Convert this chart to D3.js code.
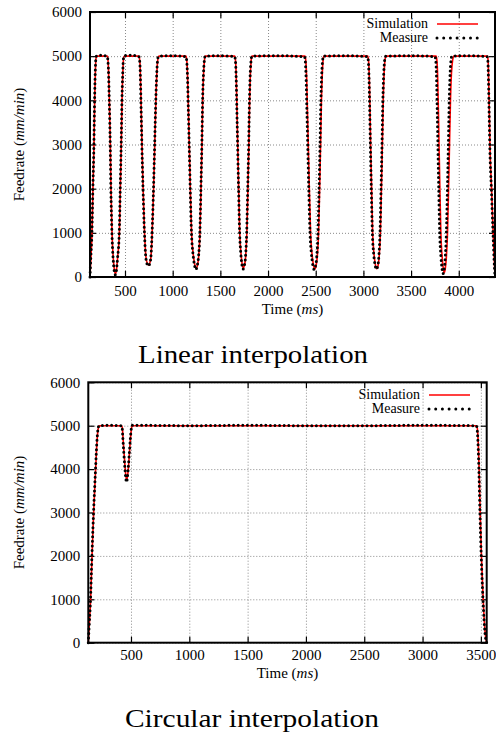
<!DOCTYPE html>
<html><head><meta charset="utf-8">
<script src="https://cdn.jsdelivr.net/npm/d3@7"></script>
<style>
body{margin:0;background:#fff;}
svg text{font-family:"Liberation Serif","Times New Roman",serif;fill:#000;}
</style>
</head><body>
<svg id="chart" width="496" height="736"></svg>
<script>
// ---------- DATA ----------
const seriesNames = ["Simulation", "Measure"];
const panelTitles = ["Linear interpolation", "Circular interpolation"];
const yTicks = [0, 1000, 2000, 3000, 4000, 5000, 6000];
const linearXTicks = [500, 1000, 1500, 2000, 2500, 3000, 3500, 4000];
const circularXTicks = [500, 1000, 1500, 2000, 2500, 3000, 3500];

const linearSimTime = [133,142,154,164,175,182,190,196,205,315,
 320,327,336,346,353,364,378,390,399,410,423,441,451,461,469,477,485,495,645,
 652,660,668,678,690,705,720,735,748,760,772,785,800,812,824,836,846,856,1139,
 1148,1157,1165,1174,1185,1198,1214,1230,1244,1258,1272,1286,1297,1307,1315,1324,1333,1342,1650,
 1659,1667,1674,1682,1692,1703,1716,1728,1740,1752,1765,1778,1789,1799,1807,1815,1823,1831,2387,
 2396,2405,2413,2422,2433,2446,2460,2474,2490,2503,2516,2530,2541,2551,2560,2569,2577,2586,3045,
 3054,3062,3069,3076,3086,3097,3110,3124,3140,3153,3165,3178,3189,3199,3208,3217,3226,3236,3762,
 3771,3779,3786,3793,3802,3812,3824,3836,3847,3858,3870,3882,3893,3903,3913,3923,3935,3949,4300,
 4308,4313,4318,4328,4344,4361,4372,4380];
const linearSimValue = [0,400,1000,2000,3000,4000,4700,4950,5000,5000,
 4950,4700,4000,3000,2000,1000,400,150,70,150,450,1000,2000,3000,4000,4600,4950,5000,5000,
 4950,4700,4000,3000,2000,1000,450,300,270,320,450,1000,2000,3000,4000,4700,4950,5000,5000,
 4900,4500,3800,3000,2000,1000,550,300,190,250,450,1000,2000,3000,4000,4600,4900,5000,5000,
 4900,4500,3800,3000,2000,1000,550,300,200,260,450,1000,2000,3000,4000,4600,4900,5000,5000,
 4900,4500,3800,3000,2000,1000,550,300,185,250,450,1000,2000,3000,4000,4600,4900,5000,5000,
 4900,4500,3800,3000,2000,1000,550,300,190,250,450,1000,2000,3000,4000,4600,4900,5000,5000,
 4900,4500,3800,3000,2000,1000,500,220,100,180,450,1000,2000,3000,4000,4600,4900,5000,5000,
 4900,4500,4000,2900,2000,1000,400,0];

const linearMeasTime = [133,141,153,163,174,181,189,195,204,260,314,
 320,327,335,345,352,363,376,388,398,409,422,440,450,460,468,476,484,494,560,645,
 651,659,667,677,689,704,719,734,747,759,771,784,799,811,823,835,845,855,1000,1139,
 1147,1156,1164,1173,1184,1197,1212,1228,1242,1256,1270,1285,1296,1306,1314,1323,1332,1341,1500,1650,
 1658,1666,1673,1681,1691,1702,1714,1726,1738,1750,1763,1776,1787,1797,1805,1813,1822,1830,2100,2382,
 2390,2399,2407,2416,2427,2440,2454,2468,2484,2497,2510,2524,2535,2545,2554,2563,2572,2581,2800,3042,
 3051,3059,3066,3073,3083,3094,3107,3121,3136,3149,3161,3174,3185,3195,3204,3213,3222,3232,3500,3750,
 3759,3767,3774,3781,3790,3800,3812,3824,3835,3846,3858,3870,3881,3891,3900,3909,3918,3928,4100,4297,
 4305,4311,4316,4326,4342,4359,4370,4380];
const linearMeasValue = [0,420,1000,2000,3000,4000,4700,4960,5010,5020,4990,
 4920,4650,4000,3000,2000,1000,400,120,50,130,430,1000,2000,3000,4000,4600,4950,5010,5020,4990,
 4940,4700,4000,3000,2000,1000,430,280,250,300,440,1000,2000,3000,4000,4700,4960,5000,5010,4990,
 4900,4500,3800,3000,2000,1000,540,280,170,240,440,1000,2000,3000,4000,4600,4900,5000,5010,4990,
 4900,4500,3800,3000,2000,1000,540,280,180,250,440,1000,2000,3000,4000,4600,4900,5000,5010,4990,
 4900,4500,3800,3000,2000,1000,540,290,170,240,440,1000,2000,3000,4000,4600,4900,5000,5010,4990,
 4900,4500,3800,3000,2000,1000,540,290,180,240,440,1000,2000,3000,4000,4600,4900,5000,5010,4990,
 4900,4500,3800,3000,2000,1000,490,200,80,160,440,1000,2000,3000,4000,4600,4900,5000,5010,4990,
 4900,4500,4000,2900,2000,1000,400,0];

const circularSimTime = [134,140,154,166,180,197,208,217,228,420,
 426,432,440,448,456,463,470,477,485,497,505,512,3463,
 3469,3474,3485,3494,3505,3520,3536,3550];
const circularSimValue = [0,300,1000,2000,3000,4000,4600,4900,5000,5000,
 4950,4700,4400,4100,3850,3750,3830,4000,4300,4750,4950,5000,5000,
 4950,4800,4000,3000,2000,1000,250,0];

const circularMeasTime = [134,140,153,165,179,196,207,216,226,300,420,
 425,431,439,447,455,462,469,476,484,496,504,511,1000,1500,2000,2500,3000,3461,
 3467,3472,3483,3492,3503,3518,3535,3550];
const circularMeasValue = [0,320,1000,2000,3000,4000,4600,4900,5000,5010,5000,
 4930,4680,4350,4050,3800,3700,3800,4000,4300,4750,4960,5010,5000,5010,5000,5000,5010,5000,
 4940,4780,4000,3000,2000,1000,230,0];

// ---------- DRAWING ----------
const FONT = '"Liberation Serif", "Times New Roman", serif';
const svg = d3.select("#chart");

function zip(t, v) { return t.map((d, i) => ({t: d, v: v[i]})); }

function drawPanel(c) {
  const g = svg.append("g");
  const x = d3.scaleLinear().domain(d3.extent(c.simTime)).range([c.left, c.right]);
  const y = d3.scaleLinear().domain([0, 6000]).range([c.bottom, c.top]);
  const W = c.right - c.left, H = c.bottom - c.top;

  // grid
  const gx = g.append("g").attr("transform", `translate(0,${c.bottom})`)
    .call(d3.axisBottom(x).tickValues(c.xTicks).tickSize(-H).tickFormat(""));
  const gy = g.append("g").attr("transform", `translate(${c.left},0)`)
    .call(d3.axisLeft(y).tickValues(yTicks).tickSize(-W).tickFormat(""));
  [gx, gy].forEach(a => {
    a.select(".domain").remove();
    a.selectAll("line").attr("stroke", "#8a8a8a").attr("stroke-width", 1).attr("stroke-dasharray", "1,2");
  });

  // inward tick marks on all four sides
  const tl = 6;
  const marks = [
    g.append("g").attr("transform", `translate(0,${c.bottom})`).call(d3.axisBottom(x).tickValues(c.xTicks).tickSize(-tl).tickFormat("")),
    g.append("g").attr("transform", `translate(0,${c.top})`).call(d3.axisTop(x).tickValues(c.xTicks).tickSize(-tl).tickFormat("")),
    g.append("g").attr("transform", `translate(${c.left},0)`).call(d3.axisLeft(y).tickValues(yTicks).tickSize(-tl).tickFormat("")),
    g.append("g").attr("transform", `translate(${c.right},0)`).call(d3.axisRight(y).tickValues(yTicks).tickSize(-tl).tickFormat(""))
  ];
  marks.forEach(a => { a.select(".domain").remove(); a.selectAll("line").attr("stroke", "#000").attr("stroke-width", 1.2); });

  // lines
  const line = d3.line().x(d => x(d.t)).y(d => y(d.v)).curve(d3.curveMonotoneX);
  g.append("path").datum(zip(c.simTime, c.simValue)).attr("d", line)
    .attr("fill", "none").attr("stroke", "#ff0000").attr("stroke-width", 1.6);
  g.append("path").datum(zip(c.measTime, c.measValue)).attr("d", line)
    .attr("fill", "none").attr("stroke", "#000").attr("stroke-width", 3)
    .attr("stroke-linecap", "round").attr("stroke-dasharray", "0,4.6");

  // border
  g.append("rect").attr("x", c.left).attr("y", c.top).attr("width", W).attr("height", H)
    .attr("fill", "none").attr("stroke", "#000").attr("stroke-width", 2);

  // tick labels
  const lx = g.append("g").attr("transform", `translate(0,${c.bottom})`)
    .call(d3.axisBottom(x).tickValues(c.xTicks).tickSize(0).tickPadding(c.xPad).tickFormat(d3.format("d")));
  const ly = g.append("g").attr("transform", `translate(${c.left},0)`)
    .call(d3.axisLeft(y).tickValues(yTicks).tickSize(0).tickPadding(8).tickFormat(d3.format("d")));
  [lx, ly].forEach(a => {
    a.select(".domain").remove();
    a.attr("font-family", null).attr("font-size", null);
    a.selectAll("text").style("font-size", "15px").style("font-family", FONT);
  });

  // axis titles
  const xt = g.append("text").attr("x", (c.left + c.right) / 2).attr("y", c.xLabelY)
    .attr("text-anchor", "middle").style("font-size", "15px").style("font-family", FONT);
  xt.append("tspan").text("Time (");
  xt.append("tspan").attr("font-style", "italic").text("ms");
  xt.append("tspan").text(")");

  const yt = g.append("text").attr("transform", `translate(${c.yLabelX},${(c.top + c.bottom) / 2}) rotate(-90)`)
    .attr("text-anchor", "middle").style("font-size", "15px").style("font-family", FONT);
  yt.append("tspan").text("Feedrate (");
  yt.append("tspan").attr("font-style", "italic").text("mm/min");
  yt.append("tspan").text(")");

  // legend
  const lg = g.append("g");
  seriesNames.forEach((name, i) => {
    const yy = c.legendY + i * 14;
    lg.append("text").attr("x", c.legendX).attr("y", yy).attr("dy", "0.32em")
      .attr("text-anchor", "end").style("font-size", "14px").style("font-family", FONT).text(name);
    const ln = lg.append("line").attr("x1", c.legendX + 9).attr("x2", c.legendX + 50)
      .attr("y1", yy).attr("y2", yy);
    if (i === 0) ln.attr("stroke", "#ff0000").attr("stroke-width", 1.6);
    else ln.attr("stroke", "#000").attr("stroke-width", 3).attr("stroke-linecap", "round").attr("stroke-dasharray", "0,6.7");
  });

  // panel title
  g.append("text").attr("x", c.titleX).attr("y", c.titleY).attr("text-anchor", "middle")
    .style("font-size", "25px").style("font-family", FONT)
    .attr("textLength", c.titleW).attr("lengthAdjust", "spacingAndGlyphs")
    .text(c.title);
}

drawPanel({
  left: 90, right: 495, top: 12, bottom: 277,
  simTime: linearSimTime, simValue: linearSimValue,
  measTime: linearMeasTime, measValue: linearMeasValue,
  xTicks: linearXTicks, xPad: 8.5, xLabelY: 314, yLabelX: 24,
  legendX: 428, legendY: 24,
  title: panelTitles[0], titleX: 253, titleY: 363, titleW: 230
});
drawPanel({
  left: 88.3, right: 486.7, top: 382.3, bottom: 642.7,
  simTime: circularSimTime, simValue: circularSimValue,
  measTime: circularMeasTime, measValue: circularMeasValue,
  xTicks: circularXTicks, xPad: 6.7, xLabelY: 678, yLabelX: 24,
  legendX: 420, legendY: 395,
  title: panelTitles[1], titleX: 252, titleY: 727, titleW: 254
});
</script>
</body></html>
